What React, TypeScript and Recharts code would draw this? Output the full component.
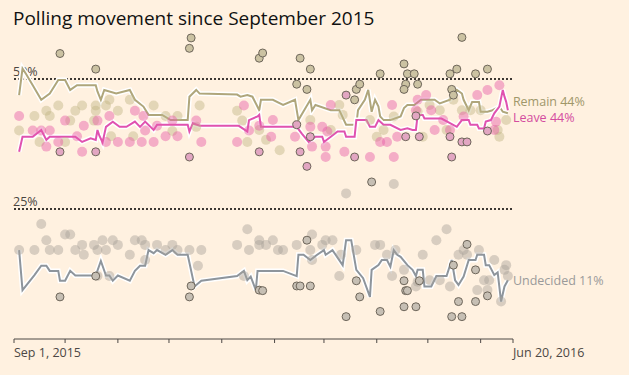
import React from "react"
import { ComposedChart, Line, Scatter, XAxis, YAxis, ReferenceLine } from "recharts"

// x = days since Sep 1, 2015; y = percent
const REMAIN_AVG: [number, number][] = [
  [3, 46.9], [5, 52], [7, 51], [11, 48.8], [16, 46], [21, 47.2], [26, 49.8], [30, 49.8], [33, 47.9], [37, 48.8],
  [48, 48.8], [49, 47.6], [51, 46], [53, 47.9], [60, 47.2], [68, 47.9], [71, 46], [76, 44.7], [79, 43.1], [87, 43.1],
  [92, 42.1], [102, 42.1], [103, 46.6], [107, 47.9], [109, 47.2], [131, 47], [133, 46.6], [137, 46.9], [140, 46.6],
  [144, 44], [145, 46], [152, 46], [158, 45], [165, 46], [167, 42.1], [174, 46], [175, 44], [177, 45], [186, 44],
  [191, 44], [195, 41.2], [201, 41.2], [202, 44], [206, 46], [208, 47.9], [210, 43.7], [212, 46], [214, 44.7],
  [215, 42.8], [217, 42.1], [221, 42.1], [227, 42.8], [229, 44.4], [231, 45], [235, 45], [239, 46], [247, 46],
  [250, 45.3], [256, 46], [258, 47.2], [260, 47.9], [263, 47.2], [264, 46], [267, 44], [269, 45.6], [273, 45.6],
  [274, 43.7], [278, 43.7], [281, 44], [285, 44.7], [287, 43.7], [290, 43.4],
]

const LEAVE_AVG: [number, number][] = [
  [3, 36], [5, 38.9], [11, 38.9], [16, 40.2], [19, 38.3], [21, 38.9], [36, 38.9], [40, 37.9], [45, 38.6], [48, 38.3],
  [49, 40.2], [50, 39.2], [52, 37.8], [54, 40.8], [58, 41.8], [62, 40.8], [66, 40.8], [71, 41.8], [74, 40.8],
  [77, 41.8], [82, 40.2], [84, 41.2], [102, 41.2], [103, 39.9], [105, 41.5], [109, 41], [132, 41], [137, 39.9],
  [138, 42.1], [143, 42.8], [144, 43.1], [145, 40.8], [166, 40.8], [169, 39.5], [173, 37.9], [177, 38.9],
  [181, 38.9], [182, 37.9], [186, 38.9], [190, 39.9], [194, 39.9], [195, 38.9], [200, 38.9], [201, 42.1],
  [207, 42.1], [209, 40.8], [212, 40.8], [214, 42.1], [217, 41.2], [221, 41.2], [227, 40.2], [231, 40.5],
  [234, 40.2], [236, 40.2], [237, 43.1], [240, 43.1], [241, 42.4], [251, 42.4], [256, 41.5], [260, 40.8],
  [263, 42.1], [267, 42.1], [268, 41.2], [272, 41.2], [273, 40.5], [276, 40.5], [277, 41.8], [280, 42.1],
  [282, 43.4], [285, 44.7], [287, 47.9], [288, 46.6], [289, 45.6], [290, 44],
]

const UNDECIDED_AVG: [number, number][] = [
  [3, 17.1], [5, 9.4], [12, 12.3], [16, 14.1], [19, 14.1], [21, 13.1], [26, 13.1], [27, 11.2], [30, 11.2], [33, 13.1],
  [36, 12.2], [48, 12.2], [51, 15], [54, 12.2], [56, 12.2], [58, 11.2], [61, 12.2], [68, 11.2], [71, 13.1], [74, 14.1],
  [77, 14.1], [79, 17.1], [82, 16.5], [84, 17.1], [89, 16.2], [93, 17.1], [96, 16.2], [102, 16.2], [106, 10.1],
  [110, 11.2], [131, 12.1], [135, 13.1], [137, 11.3], [139, 12], [142, 9.4], [143, 13.1], [158, 13.1], [166, 12.1],
  [167, 16.2], [170, 16.2], [174, 15.2], [178, 16.2], [182, 17.1], [183, 16.2], [187, 17.1], [193, 14.2], [195, 19],
  [198, 19], [201, 13.3], [205, 11.7], [209, 8.1], [210, 13.3], [214, 14.2], [216, 15.2], [219, 15.2], [221, 13.9],
  [223, 17.1], [225, 16.2], [227, 15.8], [231, 14.2], [234, 13.3], [236, 12.1], [237, 13.3], [240, 13.3], [241, 10.1],
  [245, 10.1], [248, 12.1], [254, 12.1], [257, 15.2], [259, 11.3], [261, 10.4], [264, 12], [267, 15.2], [271, 15.2],
  [272, 16.2], [276, 16.2], [277, 14.2], [279, 14.2], [282, 12.3], [284, 12.8], [286, 7.2], [288, 10.1], [290, 11.3],
]

// individual polls, online (light dots)
const REMAIN_ONLINE: [number, number][] = [
  [3, 40.1], [12, 42.9], [19, 43.9], [21, 42.9], [26, 44.9], [33, 42], [36, 43.9], [40, 44.9], [48, 44.9], [48, 43.9],
  [47, 42], [54, 44.9], [56, 46], [61, 43.9], [68, 46], [82, 44.9], [89, 42.9], [96, 42.9], [109, 44.9], [131, 43.9],
  [137, 37.9], [15, 37.9], [30, 37.9], [57, 39], [70, 39], [93, 40], [107, 40.8], [134, 42], [191, 45], [193, 43.1],
  [174, 42.1], [186, 40.2], [144, 40.2], [148, 38.3], [156, 36.3], [213, 38.9], [217, 40.2], [223, 42.8], [209, 42.1],
  [237, 43.7], [244, 45], [250, 44], [258, 46], [263, 44], [268, 44], [274, 44], [284, 40.2], [285, 38.9], [289, 42.1],
  [254, 40.2], [240, 38.9],
]

const LEAVE_ONLINE: [number, number][] = [
  [3, 42.9], [11, 40.1], [16, 40.1], [21, 40.1], [19, 37], [26, 37.9], [30, 42], [41, 41], [40, 36], [49, 42],
  [56, 42.9], [54, 37.9], [61, 37.9], [68, 37.9], [75, 37.9], [82, 37.9], [71, 43.9], [77, 40.1], [84, 41], [89, 39],
  [96, 39], [93, 42], [107, 42], [110, 37.9], [131, 37.9], [135, 44.9], [138, 40.1], [144, 41], [37, 39], [76, 42.9],
  [186, 45], [174, 40.8], [181, 40.8], [184, 39.9], [175, 37], [183, 37], [183, 35], [194, 36], [209, 35], [223, 35],
  [151, 38.9], [152, 42.1], [165, 38.9], [215, 37.9], [219, 37.9], [225, 38.9], [222, 45], [237, 46], [236, 44],
  [242, 46.9], [245, 44], [247, 40.2], [252, 42.1], [264, 42.8], [272, 46.9], [278, 47.9], [285, 48.8], [283, 41.8],
  [282, 40.2], [256, 40.2],
]

const UNDECIDED_ONLINE: [number, number][] = [
  [3, 17.1], [12, 17.1], [16, 22.1], [19, 19], [21, 17.1], [26, 17.1], [30, 20.1], [33, 20.1], [36, 17.1], [40, 18.1],
  [41, 16.2], [47, 18.1], [49, 17.1], [52, 19], [54, 17.1], [58, 19], [61, 18.1], [68, 16.2], [71, 19], [75, 19],
  [77, 18.1], [84, 18.1], [77, 15.2], [89, 17.1], [93, 18.1], [96, 17.1], [103, 17.1], [110, 17.1], [108, 14.1],
  [131, 18.1], [137, 21.1], [138, 17.1], [144, 19], [49, 12.1], [56, 12.1], [135, 12.1], [144, 18.1], [148, 18.1],
  [152, 19], [155, 17.1], [158, 17.1], [166, 18.1], [175, 20.1], [174, 17.1], [175, 15.2], [181, 18.1], [183, 19],
  [187, 19], [191, 12.1], [192, 16.2], [201, 17.1], [212, 18.1], [215, 18.1], [219, 16.2], [222, 12.1], [224, 17.1],
  [229, 13.3], [236, 10.1], [237, 11], [240, 16.2], [244, 11.3], [248, 19], [250, 11.3], [254, 21.1], [256, 10.1],
  [261, 16.2], [264, 17.1], [266, 16.2], [273, 17.1], [272, 9.4], [276, 11.3], [279, 11.3], [278, 9.4], [282, 15.2],
  [289, 14.2], [288, 13.3], [290, 12.1], [286, 7.2], [195, 28], [223, 29.8],
]

// individual polls, phone (outlined dots)
const REMAIN_PHONE: [number, number][] = [
  [27, 54.9], [48, 51.9], [104, 57.9], [103, 55.9], [144, 54], [146, 55], [168, 54], [174, 51.9], [166, 49], [172, 48],
  [201, 48], [200, 46], [203, 49], [215, 51], [229, 52.9], [231, 51], [235, 51], [230, 49], [229, 48], [237, 49],
  [256, 51], [260, 51.9], [263, 58], [271, 51], [278, 51.9], [257, 48], [258, 46.9],
]

const LEAVE_PHONE: [number, number][] = [
  [27, 36], [48, 36], [103, 35], [144, 36], [168, 36], [166, 41.2], [174, 38.9], [172, 33.2], [200, 35], [195, 46.9],
  [230, 38.9], [236, 42.9], [238, 38.9], [256, 38.9], [263, 37.9], [266, 37.9], [257, 35], [278, 40],
]

const UNDECIDED_PHONE: [number, number][] = [
  [27, 8.1], [48, 12.1], [104, 10.2], [103, 8.1], [144, 9.4], [146, 9.3], [172, 19], [201, 11.2], [203, 8.1],
  [166, 10.2], [168, 10.2], [174, 10.2], [195, 4.3], [215, 5.3], [229, 11.2], [230, 9.3], [231, 9.3], [229, 6.2],
  [236, 6.2], [238, 11.2], [257, 4.3], [263, 4.3], [261, 7.2], [271, 7.2], [278, 8.3], [271, 13.3], [266, 18.2],
  [258, 14.2], [210, 30.2],
]

const TICK_DAYS = [0, 30, 61, 91, 122, 153, 182, 213, 243, 274, 293]
const TICK_LABELS = ["Sep 1, 2015", "", "", "", "", "", "", "", "", "", "Jun 20, 2016"]

const FONT = "'Open Sans', 'Noto Sans', sans-serif"
const BG = "#fff1e0"

const toRows = (pts: [number, number][]) => pts.map(([d, v]) => ({ d, v }))

const dot = (fill: string, opacity: number, r: number, stroke?: string) => (p: any) => (
  <circle
    cx={p.cx}
    cy={p.cy}
    r={r}
    fill={fill}
    fillOpacity={opacity}
    stroke={stroke || "none"}
    strokeWidth={stroke ? 1 : 0}
  />
)

const endLabel = (text: string, color: string, last: number, dy: number) => (p: any) =>
  p.index === last ? (
    <text x={p.x + 5} y={p.y + dy} fill={color} fontSize={12.5} fontFamily={FONT} dominantBaseline="middle">
      {text}
    </text>
  ) : null

const refLabel = (text: string) => (p: any) => (
  <text x={p.viewBox.x - 1} y={p.viewBox.y - 3} fill="#4a4540" fontSize={12.5} fontFamily={FONT}>
    {text}
  </text>
)

export default function App() {
  const remain = toRows(REMAIN_AVG)
  const leave = toRows(LEAVE_AVG)
  const undecided = toRows(UNDECIDED_AVG)

  return (
    <div style={{ position: "absolute", left: 0, top: 0, width: 629, height: 375, background: BG, overflow: "hidden" }}>
      <div
        style={{
          position: "absolute",
          left: 13,
          top: 9,
          fontFamily: FONT,
          fontSize: 19,
          lineHeight: "19px",
          color: "#111",
          whiteSpace: "nowrap",
        }}
      >
        Polling movement since September 2015
      </div>
      <ComposedChart width={629} height={375} margin={{ top: 27, right: 116, bottom: 6, left: 14 }}>
        <XAxis
          type="number"
          dataKey="d"
          domain={[0, 293]}
          ticks={TICK_DAYS}
          interval={0}
          height={30}
          stroke="#4d4845"
          tickSize={4}
          tick={(p: any) => (
            <text x={p.x} y={p.y + 12} fill="#4d4845" fontSize={12.5} fontFamily={FONT} textAnchor="start">
              {TICK_LABELS[TICK_DAYS.indexOf(p.payload.value)]}
            </text>
          )}
        />
        <YAxis type="number" dataKey="v" domain={[0, 60]} hide width={0} />
        <ReferenceLine y={50} stroke="#3d3833" strokeWidth={2} strokeDasharray="2 2" label={refLabel("50%")} />
        <ReferenceLine y={25} stroke="#3d3833" strokeWidth={2} strokeDasharray="2 2" label={refLabel("25%")} />

        <Scatter data={toRows(REMAIN_ONLINE)} dataKey="v" shape={dot("#c2b585", 0.45, 5)} isAnimationActive={false} />
        <Scatter data={toRows(LEAVE_ONLINE)} dataKey="v" shape={dot("#e65aa6", 0.45, 5)} isAnimationActive={false} />
        <Scatter data={toRows(UNDECIDED_ONLINE)} dataKey="v" shape={dot("#a9a298", 0.45, 5)} isAnimationActive={false} />
        <Scatter data={toRows(REMAIN_PHONE)} dataKey="v" shape={dot("#cbc2a2", 1, 4, "#6e665a")} isAnimationActive={false} />
        <Scatter data={toRows(LEAVE_PHONE)} dataKey="v" shape={dot("#e2a6c2", 1, 4, "#6e665a")} isAnimationActive={false} />
        <Scatter data={toRows(UNDECIDED_PHONE)} dataKey="v" shape={dot("#c6bfb4", 1, 4, "#6e665a")} isAnimationActive={false} />

        <Line data={undecided} dataKey="v" type="linear" stroke="#ffffff" strokeWidth={5} dot={false} isAnimationActive={false} />
        <Line
          data={undecided}
          dataKey="v"
          type="linear"
          stroke="#8e959c"
          strokeWidth={2}
          dot={false}
          isAnimationActive={false}
          label={endLabel("Undecided 11%", "#9a9a9a", undecided.length - 1, 1)}
        />
        <Line data={remain} dataKey="v" type="linear" stroke="#ffffff" strokeWidth={5} dot={false} isAnimationActive={false} />
        <Line
          data={remain}
          dataKey="v"
          type="linear"
          stroke="#afa67b"
          strokeWidth={2}
          dot={false}
          isAnimationActive={false}
          label={endLabel("Remain 44%", "#a0976a", remain.length - 1, -11)}
        />
        <Line data={leave} dataKey="v" type="linear" stroke="#ffffff" strokeWidth={5} dot={false} isAnimationActive={false} />
        <Line
          data={leave}
          dataKey="v"
          type="linear"
          stroke="#e052b0"
          strokeWidth={2}
          dot={false}
          isAnimationActive={false}
          label={endLabel("Leave 44%", "#d44c9f", leave.length - 1, 8)}
        />
      </ComposedChart>
    </div>
  )
}
